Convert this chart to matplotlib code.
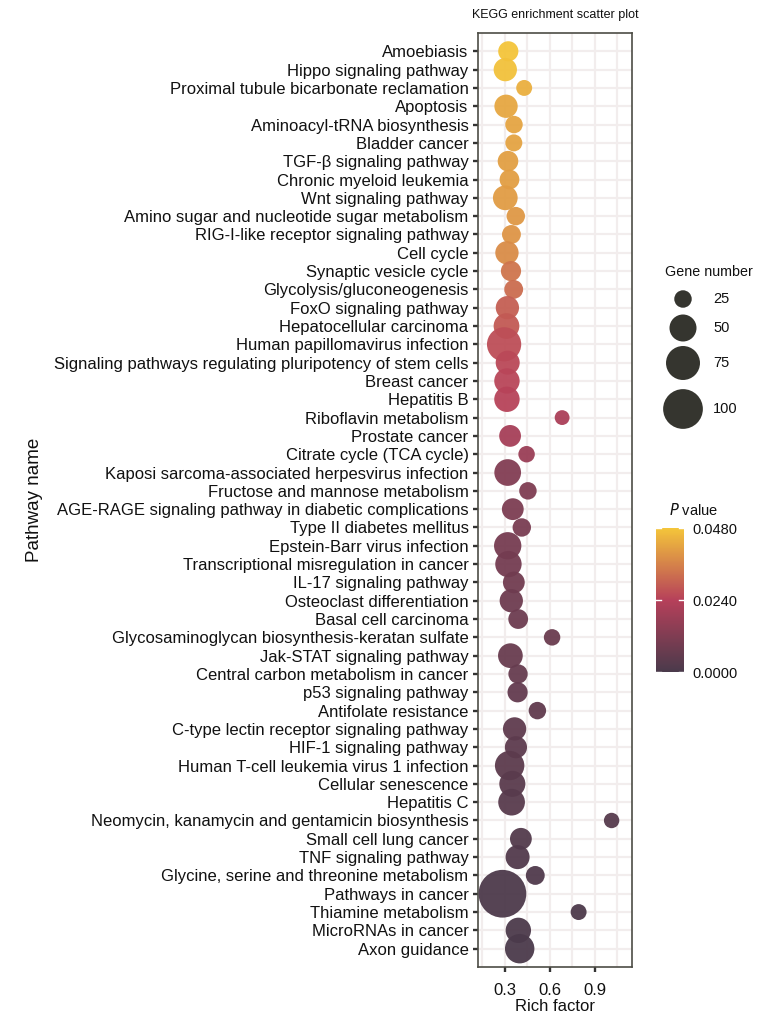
import numpy as np
import matplotlib
matplotlib.use("Agg")
import matplotlib.pyplot as plt
from matplotlib.colors import LinearSegmentedColormap, Normalize
from matplotlib.colorbar import ColorbarBase

plt.rcParams['font.family'] = ['Liberation Sans', 'DejaVu Sans']

pathways = [
    "Amoebiasis", "Hippo signaling pathway", "Proximal tubule bicarbonate reclamation",
    "Apoptosis", "Aminoacyl-tRNA biosynthesis", "Bladder cancer", "TGF-β signaling pathway",
    "Chronic myeloid leukemia", "Wnt signaling pathway",
    "Amino sugar and nucleotide sugar metabolism", "RIG-I-like receptor signaling pathway",
    "Cell cycle", "Synaptic vesicle cycle", "Glycolysis/gluconeogenesis",
    "FoxO signaling pathway", "Hepatocellular carcinoma", "Human papillomavirus infection",
    "Signaling pathways regulating pluripotency of stem cells", "Breast cancer", "Hepatitis B",
    "Riboflavin metabolism", "Prostate cancer", "Citrate cycle (TCA cycle)",
    "Kaposi sarcoma-associated herpesvirus infection", "Fructose and mannose metabolism",
    "AGE-RAGE signaling pathway in diabetic complications", "Type II diabetes mellitus",
    "Epstein-Barr virus infection", "Transcriptional misregulation in cancer",
    "IL-17 signaling pathway", "Osteoclast differentiation", "Basal cell carcinoma",
    "Glycosaminoglycan biosynthesis-keratan sulfate", "Jak-STAT signaling pathway",
    "Central carbon metabolism in cancer", "p53 signaling pathway", "Antifolate resistance",
    "C-type lectin receptor signaling pathway", "HIF-1 signaling pathway",
    "Human T-cell leukemia virus 1 infection", "Cellular senescence", "Hepatitis C",
    "Neomycin, kanamycin and gentamicin biosynthesis", "Small cell lung cancer",
    "TNF signaling pathway", "Glycine, serine and threonine metabolism", "Pathways in cancer",
    "Thiamine metabolism", "MicroRNAs in cancer", "Axon guidance",
]

rich_factor = [
    0.322, 0.302, 0.428, 0.307, 0.360, 0.359, 0.320, 0.330, 0.302, 0.372,
    0.343, 0.313, 0.340, 0.358, 0.316, 0.310, 0.294, 0.318, 0.313, 0.313,
    0.681, 0.334, 0.444, 0.318, 0.453, 0.352, 0.412, 0.318, 0.323, 0.359,
    0.342, 0.388, 0.614, 0.336, 0.387, 0.384, 0.516, 0.364, 0.373, 0.331,
    0.349, 0.344, 1.011, 0.406, 0.384, 0.502, 0.283, 0.791, 0.389, 0.398,
]

gene_number = [
    31, 39, 22, 39, 25, 24, 32, 30, 43, 27,
    28, 39, 31, 28, 39, 46, 76, 41, 45, 45,
    20, 35, 23, 49, 25, 35, 27, 51, 48, 35,
    39, 30, 23, 43, 29, 31, 25, 39, 36, 58,
    47, 49, 21, 35, 41, 28, 141, 22, 45, 58,
]

p_value = [
    0.0478, 0.0472, 0.0440, 0.0425, 0.0420, 0.0418, 0.0412, 0.0410, 0.0405, 0.0398,
    0.0392, 0.0375, 0.0335, 0.0320, 0.0295, 0.0285, 0.0265, 0.0255, 0.0250, 0.0245,
    0.0215, 0.0205, 0.0180, 0.0125, 0.0118, 0.0112, 0.0105, 0.0098, 0.0092, 0.0088,
    0.0082, 0.0078, 0.0072, 0.0068, 0.0062, 0.0058, 0.0052, 0.0048, 0.0044, 0.0040,
    0.0036, 0.0032, 0.0028, 0.0022, 0.0018, 0.0014, 0.0008, 0.0006, 0.0004, 0.0002,
]

size_breaks = [25, 50, 75, 100]
p_ticks = [0.0, 0.024, 0.048]
x_ticks = [0.3, 0.6, 0.9]

W, H = 776, 1022
DPI = 100
fig = plt.figure(figsize=(W / DPI, H / DPI), dpi=DPI)

cmap = LinearSegmentedColormap.from_list("kegg", ["#4A3A4B", "#B6405A", "#F4C53A"])
norm = Normalize(vmin=0.0, vmax=0.048)


def marker_area(n):
    n = np.asarray(n, dtype=float)
    d_px = np.sqrt(17.0 * n - 120.0)
    d_pt = d_px * 72.0 / DPI
    return d_pt ** 2


def fx(px):
    return px / W


def fy(py):
    return 1 - py / H


L, R, T, B = 478, 632, 33, 967
ax = fig.add_axes([fx(L), fy(B), (R - L) / W, (B - T) / H])
n = len(pathways)
ypos = np.arange(n)
ax.set_axisbelow(True)
ax.scatter(rich_factor, ypos, s=marker_area(gene_number), c=p_value, cmap=cmap, norm=norm,
           linewidths=0, alpha=0.95, zorder=3)
ax.set_ylim(n - 1 + 1.0, -1.0)
ax.set_xlim(0.12, 1.147)
ax.set_yticks(ypos)
ax.set_yticklabels(pathways, fontsize=12, color="#111111")
ax.set_xticks(x_ticks)
ax.set_xticklabels(["%.1f" % v for v in x_ticks], fontsize=12, color="#111111")
ax.set_xticks([0.15, 0.45, 0.75, 1.05], minor=True)
ax.grid(True, which="both", color="#F2EDED", linewidth=1.6)
ax.tick_params(axis="both", which="major", length=3.8, width=1.7, color="#333333", pad=3)
ax.tick_params(axis="x", which="major", pad=7.5)
ax.tick_params(axis="both", which="minor", length=0)
for sp in ax.spines.values():
    sp.set_color("#4d4d45")
    sp.set_linewidth(1.2)
ax.set_xlabel("Rich factor", fontsize=12, color="#111111", labelpad=1)
ax.set_ylabel("Pathway name", fontsize=13.5, color="#111111")
ax.yaxis.set_label_coords((43 - L) / (R - L), 0.5)
ax.set_title("KEGG enrichment scatter plot", fontsize=9, color="#111111", pad=11)

# Size legend
lax = fig.add_axes([0, 0, 1, 1], facecolor="none")
lax.set_xlim(0, W)
lax.set_ylim(H, 0)
lax.axis("off")
lax.text(709, 272, "Gene number", ha="center", va="center", fontsize=10.3, color="#111111")
leg_y = [299, 328, 363, 409]
lax.scatter([683] * 4, leg_y, s=marker_area(size_breaks), color="#35352f", linewidths=0)
for yy, lab in zip(leg_y, size_breaks):
    lax.text(713, yy, str(lab), ha="left", va="center", fontsize=10.5, color="#111111")

# Colour legend
lax.text(669, 510, "$\\it{P}$ value", ha="left", va="center", fontsize=10.5, color="#111111")
cax = fig.add_axes([fx(656), fy(672), 28 / W, 144 / H])
cb = ColorbarBase(cax, cmap=cmap, norm=norm, orientation="vertical")
cb.outline.set_visible(False)
cb.set_ticks(p_ticks)
cb.set_ticklabels(["%.4f" % v for v in p_ticks])
cax.tick_params(length=0, labelsize=10.5, pad=6, labelcolor="#111111")
for v in p_ticks:
    cax.plot([0, 0.18], [v, v], color="white", lw=1, transform=cax.get_yaxis_transform())
    cax.plot([0.82, 1], [v, v], color="white", lw=1, transform=cax.get_yaxis_transform())

fig.savefig("out.png", dpi=DPI)
